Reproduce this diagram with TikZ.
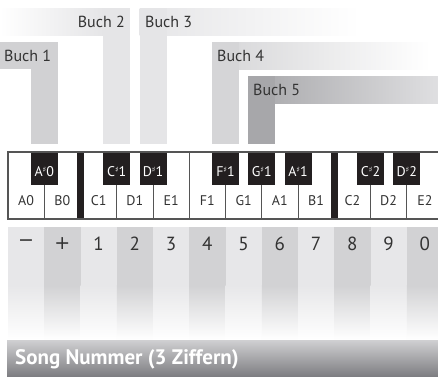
\documentclass[tikz,border=0pt]{standalone}
\usepackage{fontspec}
\setmainfont{PT Sans}
\newfontfamily\symfont{DejaVu Sans}

\definecolor{ink}{HTML}{333333}
\definecolor{tastenschwarz}{HTML}{231F20}
\definecolor{rahmengrau}{HTML}{555555}
\definecolor{buchA}{HTML}{D1D1D3}
\definecolor{buchB}{HTML}{E5E5E7}
\definecolor{buchD}{HTML}{D5D5D7}
\definecolor{buchE}{HTML}{A7A7AA}
\definecolor{buchEr}{HTML}{DFDFE1}
\definecolor{streifenA}{HTML}{E7E7E9}
\definecolor{streifenB}{HTML}{D2D2D4}
\definecolor{balkenOben}{HTML}{D0D0D2}
\definecolor{balkenUnten}{HTML}{7E7E82}

\newcommand{\kreuz}{\raisebox{.6ex}{\fontsize{7.5}{7.5}\selectfont\symfont ♯}}

\tikzset{
  buchtext/.style={font=\fontsize{16}{16}\selectfont, text=ink, inner sep=0pt},
  weisstext/.style={font=\fontsize{14}{14}\selectfont, text=ink, inner sep=0pt},
  schwarztext/.style={font=\fontsize{14}{14}\selectfont, text=white, inner sep=0pt},
  ziffer/.style={font=\fontsize{19}{19}\selectfont, text=ink, inner sep=0pt},
  rahmen/.style={draw=rahmengrau, line width=1.6pt},
  teiler/.style={draw=rahmengrau, line width=1pt},
}

\begin{document}
\begin{tikzpicture}[x=1pt, y=-1pt]
\useasboundingbox (0,0) rectangle (438,376);

% Bücher
\shade[left color=white, right color=buchB] (0,8) rectangle (103.25,35);
\fill[buchB] (103.25,8) rectangle (130.25,144);
\node[buchtext, anchor=east] (b2) at (125,21.5) {Buch 2};

\shade[left color=buchB, middle color=buchB, right color=white] (139.5,8) rectangle (360,35);
\fill[buchB] (139.5,8) rectangle (166.5,144);
\node[buchtext, anchor=west] (b3) at (145,21.5) {Buch 3};

\fill[buchA] (0,42) rectangle (57.75,69);
\fill[buchA] (30.75,42) rectangle (57.75,144);
\node[buchtext, anchor=west] (b1) at (4,55.5) {Buch 1};

\shade[left color=buchD, middle color=buchD, right color=white] (212,42) rectangle (430,69);
\fill[buchD] (212,42) rectangle (239,144);
\node[buchtext, anchor=west] (b4) at (217,55.5) {Buch 4};

\shade[left color=buchE, right color=buchEr] (248.25,76) rectangle (438,103);
\fill[buchE] (248.25,76) rectangle (275.25,144);
\node[buchtext, anchor=west] (b5) at (253,89.5) {Buch 5};

% Tastatur
\foreach \k/\v in {0/A0, 1/B0, 2/C1, 3/D1, 4/E1, 5/F1, 6/G1, 7/A1, 8/B1, 9/C2, 10/D2, 11/E2} {
  \node[weisstext] (w\k) at ({8+36.25*(\k+0.5)},201) {\v};
}
\foreach \k in {1,3,4,6,7,8,10,11}
  \draw[teiler] ({8+36.25*\k},185) -- ({8+36.25*\k},219);
\draw[teiler] ({8+36.25*5},152) -- ({8+36.25*5},219);

\foreach \k/\n/\o in {1/A/0, 3/C/1, 4/D/1, 6/F/1, 7/G/1, 8/A/1, 10/C/2, 11/D/2} {
  \fill[tastenschwarz] ({8+36.25*\k-13.5},152) rectangle ({8+36.25*\k+13.5},185);
  \node[schwarztext] (s\k) at ({8+36.25*\k},172) {\n\kreuz\o};
}
\foreach \k in {2,9}
  \fill[tastenschwarz] ({8+36.25*\k-3.25},152) rectangle ({8+36.25*\k+3.25},219);

\draw[rahmen] (438,152) -- (8,152) -- (8,219) -- (438,219);

% Ziffern
\foreach \k/\c/\d in {0/streifenA/{\symfont −}, 1/streifenB/{\symfont +}, 2/streifenA/1, 3/streifenB/2,
    4/streifenA/3, 5/streifenB/4, 6/streifenA/5, 7/streifenB/6, 8/streifenA/7,
    9/streifenB/8, 10/streifenA/9, 11/streifenB/0} {
  \fill[\c] ({8+36.25*\k},227) rectangle ({min(8+36.25*(\k+1),438)},286);
  \shade[top color=\c, bottom color=white] ({8+36.25*\k},285.5) rectangle ({min(8+36.25*(\k+1),438)},340);
  \node[ziffer] (z\k) at ({8+36.25*(\k+0.5)},243.5) {\d};
}

% Song Nummer
\shade[top color=balkenOben, bottom color=balkenUnten] (7,340) rectangle (438,376);
\node[font=\fontsize{21}{21}\selectfont\bfseries, text=white, inner sep=0pt, anchor=base west] (titel) at (15,364) {Song Nummer (3 Ziffern)};

\end{tikzpicture}
\end{document}
